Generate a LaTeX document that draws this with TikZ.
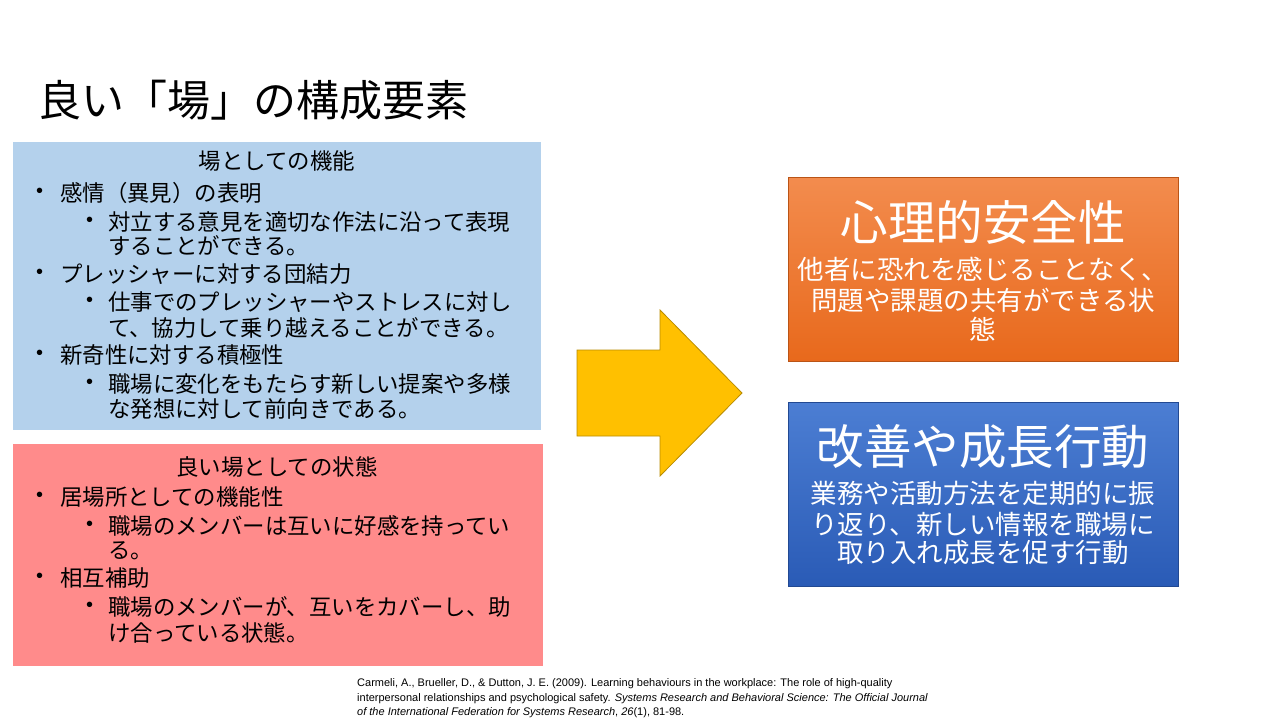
\documentclass[tikz,border=0pt]{standalone}
\usepackage{fontspec}
\setmainfont{Liberation Sans}
\newfontfamily\jp{Noto Sans CJK JP}
\usetikzlibrary{shapes.arrows}
\definecolor{lblue}{HTML}{B4D1EC}
\definecolor{lred}{HTML}{FF8B8B}
\definecolor{ygold}{HTML}{FFC000}
\definecolor{yedge}{HTML}{B98C00}
\definecolor{otop}{HTML}{F38C4E}
\definecolor{obot}{HTML}{E8691C}
\definecolor{btop}{HTML}{4C7ED3}
\definecolor{bbot}{HTML}{2A5BB6}
\tikzset{
  txt/.style={inner sep=0pt,anchor=west,font=\jp\fontsize{22.4}{24}\selectfont,text=black},
  hd/.style={inner sep=0pt,anchor=center,font=\jp\fontsize{22.4}{24}\selectfont,text=black},
  bul/.style={inner sep=0pt,anchor=west,font=\fontsize{20}{22}\selectfont,text=black},
  big/.style={inner sep=0pt,anchor=center,font=\jp\fontsize{47.5}{50}\selectfont,text=white},
  sub/.style={inner sep=0pt,anchor=center,font=\jp\fontsize{26.5}{28}\selectfont,text=white},
  cite/.style={inner sep=0pt,anchor=west,font=\fontsize{11}{13}\selectfont,text=black}
}
\begin{document}
\begin{tikzpicture}[x=1pt,y=-1pt]
\useasboundingbox (0,0) rectangle (1280,720);
\fill[white] (0,0) rectangle (1280,720);
\node[inner sep=0pt,anchor=west,font=\jp\fontsize{43}{46}\selectfont] (title) at (38,100) {良い「場」の構成要素};
% left boxes
\fill[lblue] (13,142) rectangle (541,430);
\fill[lred] (13,444) rectangle (543,666);
\node[hd] (h1) at (277,161) {場としての機能};
\node[bul] (b1) at (36,193) {•}; \node[txt] (t1) at (60,193) {感情（異見）の表明};
\node[bul] (b2) at (86,222) {•}; \node[txt] (t2) at (108,222) {対立する意見を適切な作法に沿って表現};
\node[txt] (t3) at (108,246) {することができる。};
\node[bul] (b3) at (36,274) {•}; \node[txt] (t4) at (60,274) {プレッシャーに対する団結力};
\node[bul] (b4) at (86,302) {•}; \node[txt] (t5) at (108,302) {仕事でのプレッシャーやストレスに対し};
\node[txt] (t6) at (108,328) {て、協力して乗り越えることができる。};
\node[bul] (b5) at (36,355) {•}; \node[txt] (t7) at (60,355) {新奇性に対する積極性};
\node[bul] (b6) at (86,384) {•}; \node[txt] (t8) at (108,384) {職場に変化をもたらす新しい提案や多様};
\node[txt] (t9) at (108,409) {な発想に対して前向きである。};
\node[hd] (h2) at (277,467) {良い場としての状態};
\node[bul] (c1) at (36,497) {•}; \node[txt] (u1) at (60,497) {居場所としての機能性};
\node[bul] (c2) at (86,526) {•}; \node[txt] (u2) at (108,526) {職場のメンバーは互いに好感を持ってい};
\node[txt] (u3) at (108,551) {る。};
\node[bul] (c3) at (36,578) {•}; \node[txt] (u4) at (60,578) {相互補助};
\node[bul] (c4) at (86,607) {•}; \node[txt] (u5) at (108,607) {職場のメンバーが、互いをカバーし、助};
\node[txt] (u6) at (108,633) {け合っている状態。};
% arrow
\draw[fill=ygold,draw=yedge,line width=0.8pt] (577,350) -- (660,350) -- (660,310) -- (742,393) -- (660,476) -- (660,436) -- (577,436) -- cycle;
% right boxes
\shade[top color=otop,bottom color=obot] (788,177) rectangle (1178,361);
\draw[obot!80!black,line width=0.4pt] (788,177) rectangle (1178,361);
\shade[top color=btop,bottom color=bbot] (788,402) rectangle (1178,586);
\draw[bbot!80!black,line width=0.4pt] (788,402) rectangle (1178,586);
\node[big] (r1) at (983,222) {心理的安全性};
\node[sub] (r2) at (983,269) {他者に恐れを感じることなく、};
\node[sub] (r3) at (983,300) {問題や課題の共有ができる状};
\node[sub] (r4) at (983,329) {態};
\node[big] (s1) at (983,447) {改善や成長行動};
\node[sub] (s2) at (983,493) {業務や活動方法を定期的に振};
\node[sub] (s3) at (983,524) {り返り、新しい情報を職場に};
\node[sub] (s4) at (983,553) {取り入れ成長を促す行動};
% citation
\node[cite] (k1) at (357,684) {Carmeli, A., Brueller, D., \& Dutton, J. E. (2009). Learning behaviours in the workplace: The role of high-quality};
\node[cite] (k2) at (357,699) {interpersonal relationships and psychological safety. \textit{Systems Research and Behavioral Science: The Official Journal}};
\node[cite] (k3) at (357,713) {\textit{of the International Federation for Systems Research}, \textit{26}(1), 81-98.};
\end{tikzpicture}
\end{document}
